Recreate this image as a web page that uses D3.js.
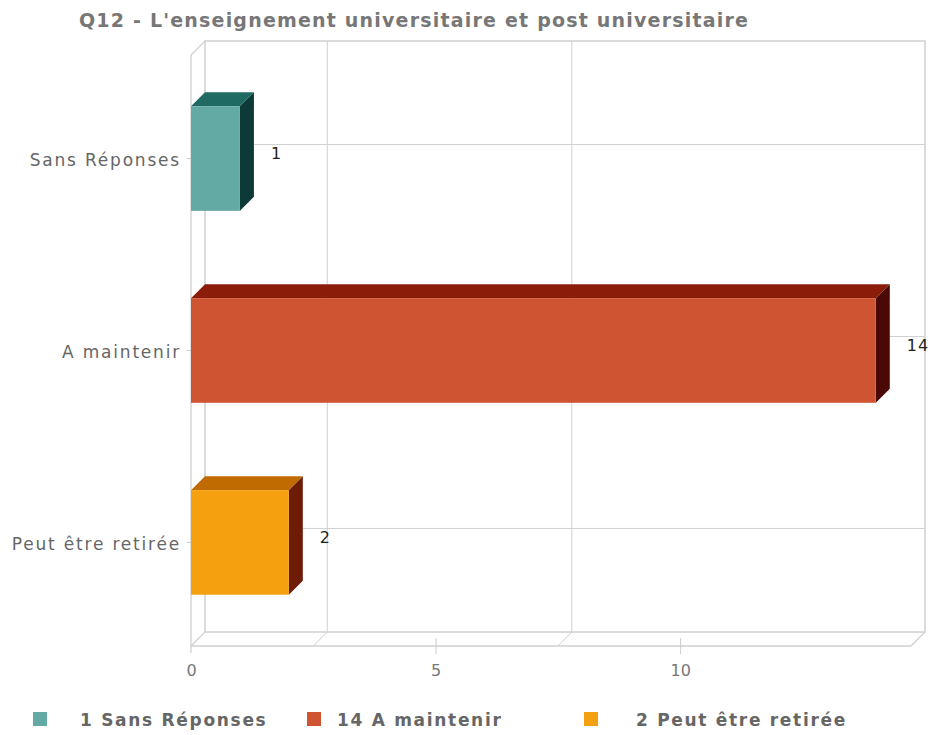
<!DOCTYPE html>
<html>
<head>
<meta charset="utf-8">
<script src="https://cdn.jsdelivr.net/npm/d3@7"></script>
<style>
  html, body { margin: 0; padding: 0; background: #fff; }
  svg { display: block; }
</style>
</head>
<body>
<svg id="chart" width="933" height="735"></svg>
<script>
// Chart data
const titleText = "Q12 - L'enseignement universitaire et post universitaire";
const categories = ["Sans Réponses", "A maintenir", "Peut être retirée"];
const values = [1, 14, 2];
const xTickValues = [0, 5, 10];
const wallGridValues = [2.5, 7.5];
const frontColors = ["#63aaa4", "#cf5532", "#f4a00f"];
const topColors = ["#1f6a63", "#8c1c0a", "#c06a02"];
const sideColors = ["#0d3a36", "#4b0906", "#6e1c08"];

const svg = d3.select("#chart");

// 3D depth offset of the back wall
const DX = 14, DY = 14;

// Front plane of the plot box
const plotLeft = 191, plotRight = 911, plotTop = 55, plotBottom = 646;

const x = d3.scaleLinear().domain([0, 14.72]).range([plotLeft, plotRight]);
const y = d3.scaleBand().domain(categories).range([plotTop, plotBottom])
  .paddingInner(0.455).paddingOuter(0.267);

const gridColor = "#d0d0d0";
const fontFamily = "DejaVu Sans, Verdana, sans-serif";

// Title
svg.append("text")
  .attr("x", 79).attr("y", 27)
  .attr("font-family", fontFamily)
  .attr("font-size", 19).attr("font-weight", "bold")
  .attr("letter-spacing", 1.2)
  .attr("fill", "#777")
  .text(titleText);

const g = svg.append("g");

// Back wall
g.append("rect")
  .attr("x", plotLeft + DX).attr("y", plotTop - DY)
  .attr("width", plotRight - plotLeft).attr("height", plotBottom - plotTop)
  .attr("fill", "none").attr("stroke", gridColor).attr("stroke-width", 1.5);

// Horizontal grid lines on the back wall at category centres
g.selectAll("line.hgrid").data(categories).join("line")
  .attr("class", "hgrid")
  .attr("x1", plotLeft + DX).attr("x2", plotRight + DX)
  .attr("y1", d => y(d) + y.bandwidth() / 2 - DY)
  .attr("y2", d => y(d) + y.bandwidth() / 2 - DY)
  .attr("stroke", gridColor);

// Vertical grid lines on the back wall, continuing across the floor
g.selectAll("line.vgrid").data(wallGridValues).join("line")
  .attr("class", "vgrid")
  .attr("x1", d => x(d) + DX).attr("x2", d => x(d) + DX)
  .attr("y1", plotTop - DY).attr("y2", plotBottom - DY)
  .attr("stroke", gridColor);
g.selectAll("line.fgrid").data(wallGridValues).join("line")
  .attr("class", "fgrid")
  .attr("x1", d => x(d) + DX).attr("y1", plotBottom - DY)
  .attr("x2", d => x(d)).attr("y2", plotBottom)
  .attr("stroke", gridColor);

// Floor and left side edges
const edges = [
  [plotLeft, plotBottom, plotRight, plotBottom],
  [plotRight, plotBottom, plotRight + DX, plotBottom - DY],
  [plotLeft, plotBottom, plotLeft + DX, plotBottom - DY],
  [plotLeft, plotTop, plotLeft + DX, plotTop - DY],
  [plotLeft, plotTop, plotLeft, plotBottom + 7]
];
g.selectAll("line.edge").data(edges).join("line")
  .attr("class", "edge")
  .attr("x1", d => d[0]).attr("y1", d => d[1])
  .attr("x2", d => d[2]).attr("y2", d => d[3])
  .attr("stroke", gridColor).attr("stroke-width", 1.3);

// Bottom axis
const xAxis = d3.axisBottom(x).tickValues(xTickValues).tickSize(8).tickFormat(d3.format("d"));
const xg = g.append("g").attr("transform", `translate(0,${plotBottom})`).call(xAxis);
xg.select(".domain").remove();
xg.selectAll(".tick line").attr("y1", -8).attr("y2", 8).attr("stroke", "#ccc")
  .filter(d => d === 0).remove();
xg.selectAll(".tick text")
  .attr("y", 30).attr("dy", 0)
  .attr("font-family", fontFamily)
  .attr("font-size", 16).attr("fill", "#777");

// Left axis
const yAxis = d3.axisLeft(y).tickSize(4).tickPadding(6);
const yg = g.append("g").attr("transform", `translate(${plotLeft},0)`).call(yAxis);
yg.select(".domain").remove();
yg.selectAll(".tick line").attr("stroke", "#ccc");
yg.selectAll(".tick text")
  .attr("font-family", fontFamily)
  .attr("font-size", 17).attr("fill", "#666")
  .attr("letter-spacing", 1.8)
  .attr("dy", "0.45em");

// Bars
const bars = g.selectAll("g.bar").data(categories).join("g").attr("class", "bar");
bars.each(function(c, i) {
  const sel = d3.select(this);
  const x0 = x(0), x1 = x(values[i]);
  const y0 = y(c), y1 = y(c) + y.bandwidth();
  sel.append("polygon")
    .attr("points", [[x0, y0], [x0 + DX, y0 - DY], [x1 + DX, y0 - DY], [x1, y0]].join(" "))
    .attr("fill", topColors[i]);
  sel.append("polygon")
    .attr("points", [[x1, y0], [x1 + DX, y0 - DY], [x1 + DX, y1 - DY], [x1, y1]].join(" "))
    .attr("fill", sideColors[i]);
  sel.append("rect")
    .attr("x", x0).attr("y", y0)
    .attr("width", x1 - x0).attr("height", y1 - y0)
    .attr("fill", frontColors[i]);
});

// Value labels
g.selectAll("text.val").data(categories).join("text")
  .attr("class", "val")
  .attr("x", (c, i) => x(values[i]) + DX + 17)
  .attr("y", c => y(c) + y.bandwidth() / 2 - 5)
  .attr("dy", "0.35em")
  .attr("font-family", fontFamily)
  .attr("font-size", 16).attr("fill", "#222")
  .attr("letter-spacing", 1)
  .text((c, i) => values[i]);

// Legend
const legendX = [33, 307, 584];
const legendTextX = [80, 337, 636];
const lg = svg.append("g");
categories.forEach((c, i) => {
  lg.append("rect")
    .attr("x", legendX[i]).attr("y", 712)
    .attr("width", 14).attr("height", 14)
    .attr("fill", frontColors[i]);
  lg.append("text")
    .attr("x", legendTextX[i]).attr("y", 726)
    .attr("font-family", fontFamily)
    .attr("font-size", 17).attr("font-weight", "bold")
    .attr("letter-spacing", 1.7)
    .attr("fill", "#666")
    .text(values[i] + " " + c);
});
</script>
</body>
</html>
